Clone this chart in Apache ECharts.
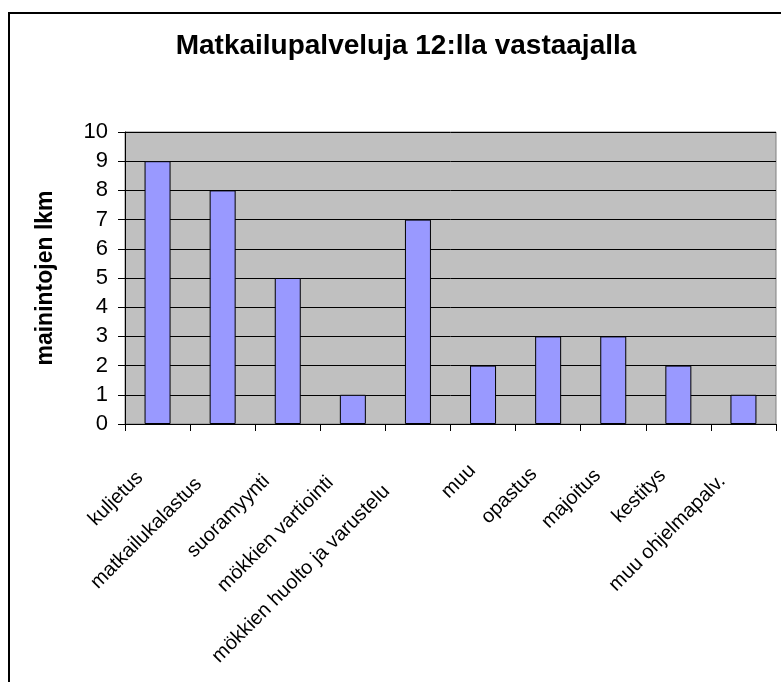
<!DOCTYPE html>
<html>
<head>
<meta charset="utf-8">
<script src="https://cdn.jsdelivr.net/npm/echarts@6/dist/echarts.min.js"></script>
<style>
  html, body { margin: 0; padding: 0; background: #fff; }
  #chart { width: 781px; height: 682px; }
</style>
</head>
<body>
<div id="chart"></div>
<script>
// palveluiden maininnat
var categories = ['kuljetus', 'matkailukalastus', 'suoramyynti', 'mökkien vartiointi',
  'mökkien huolto ja varustelu', 'muu', 'opastus', 'majoitus', 'kestitys', 'muu ohjelmapalv.'];
var counts = [9, 8, 5, 1, 7, 2, 3, 3, 2, 1];
var yTicks = [0, 10, 1]; // min, max, interval

// Excel porrastaa vinot tekstit hieman, siirto tekstin suuntaan
var labelShift = [25, 34, 30, 32, 44, 15, 20, 22, 22, 30];

var font = 'Liberation Sans, Arial, sans-serif';
var chart = echarts.init(document.getElementById('chart'));

chart.setOption({
  animation: false,
  title: {
    text: 'Matkailupalveluja 12:lla vastaajalla',
    left: 401,
    top: 27,
    textAlign: 'center',
    textStyle: { fontFamily: font, fontWeight: 'bold', fontSize: 28, color: '#000' }
  },
  graphic: [{
    type: 'rect',
    shape: { x: 9, y: 13, width: 820, height: 720 },
    style: { fill: 'none', stroke: '#000', lineWidth: 2 },
    silent: true
  }],
  grid: {
    left: 125, right: 5, top: 132, bottom: 258,
    show: true,
    backgroundColor: '#c0c0c0',
    borderColor: '#808080',
    borderWidth: 1
  },
  xAxis: {
    type: 'category',
    data: categories.map(function (c, i) {
      return { value: c, textStyle: { padding: [0, labelShift[i], 0, 0] } };
    }),
    axisLine: { lineStyle: { color: '#000', width: 1 } },
    axisTick: { show: true, length: 7, lineStyle: { color: '#000' } },
    axisLabel: {
      interval: 0,
      rotate: 45,
      margin: 33,
      color: '#000',
      fontFamily: font,
      fontSize: 20
    },
    splitLine: { show: false }
  },
  yAxis: {
    type: 'value',
    min: yTicks[0],
    max: yTicks[1],
    interval: yTicks[2],
    name: 'mainintojen lkm',
    nameLocation: 'middle',
    nameRotate: 90,
    nameGap: 68,
    nameTextStyle: { fontFamily: font, fontWeight: 'bold', fontSize: 23, color: '#000' },
    axisLine: { show: true, lineStyle: { color: '#000', width: 1 } },
    axisTick: { show: true, length: 7, lineStyle: { color: '#000' } },
    axisLabel: { margin: 17, color: '#000', fontFamily: font, fontSize: 22 },
    splitLine: { show: true, lineStyle: { color: '#000', width: 1 } }
  },
  series: [{
    type: 'bar',
    data: counts,
    barWidth: 26,
    itemStyle: { color: '#9999ff', borderColor: '#000', borderWidth: 1 }
  }]
});
</script>
</body>
</html>
